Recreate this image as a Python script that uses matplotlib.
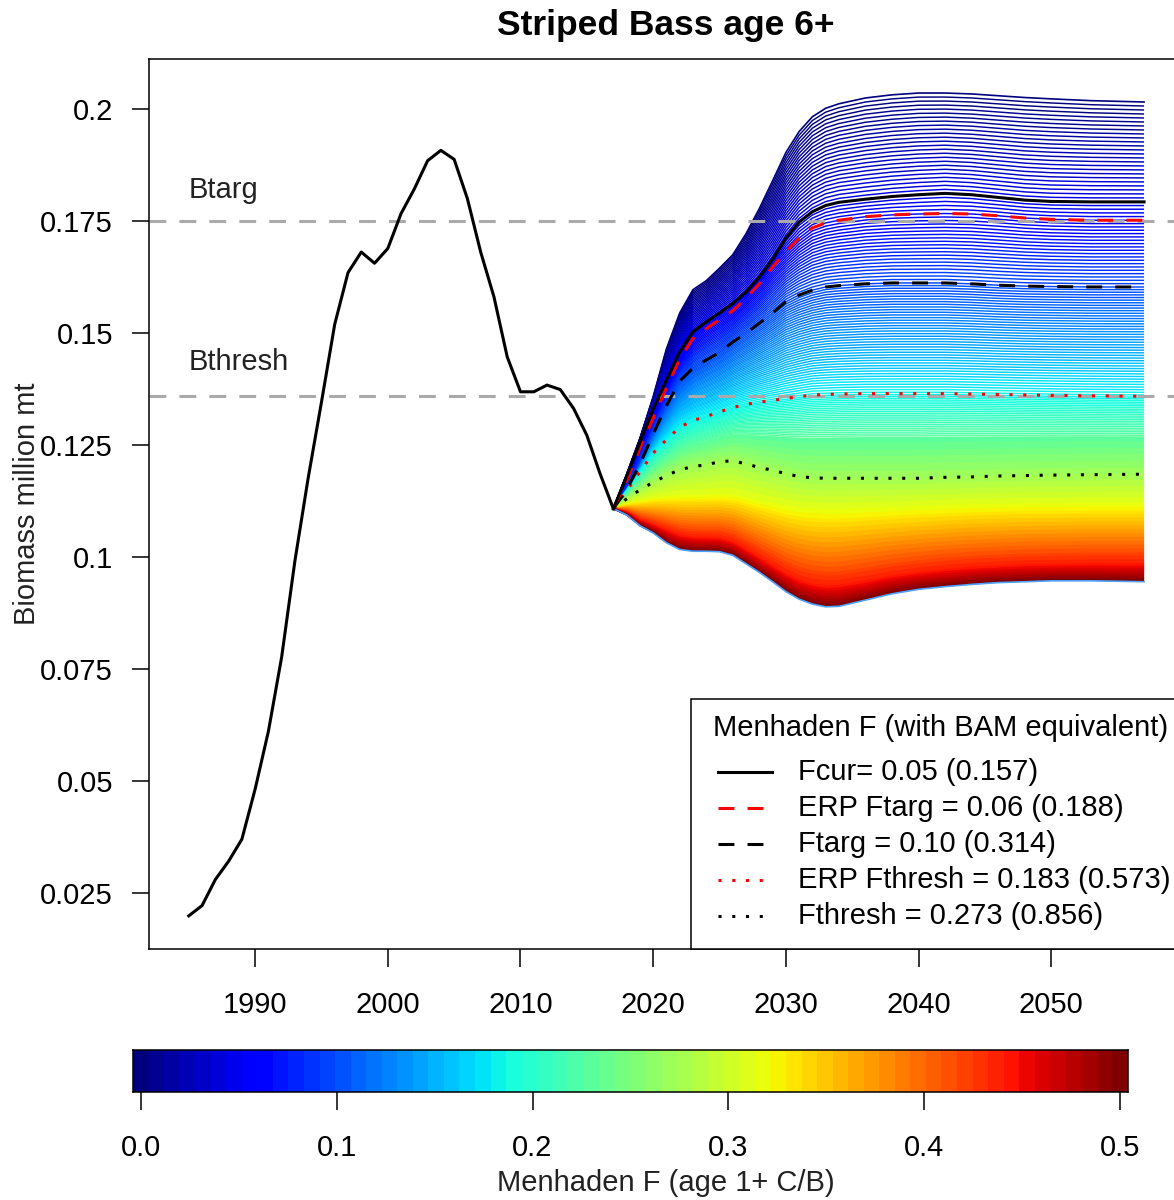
import numpy as np
import matplotlib
import matplotlib.pyplot as plt
from matplotlib.colors import Normalize
from matplotlib.lines import Line2D
from matplotlib.patches import Rectangle

plt.rcParams['font.family'] = ['Liberation Sans', 'DejaVu Sans']

# historical age 6+ biomass (million mt), 1985-2017
hist_years = np.arange(1985, 2018)
hist_biomass = [0.0199, 0.0222, 0.0280, 0.0321, 0.0370, 0.0482, 0.0611, 0.0777,
                0.0992, 0.1177, 0.1346, 0.1520, 0.1635, 0.1681, 0.1656, 0.1689,
                0.1767, 0.1822, 0.1885, 0.1908, 0.1888, 0.1800, 0.1681, 0.1581,
                0.1447, 0.1369, 0.1369, 0.1384, 0.1374, 0.1332, 0.1272, 0.1186,
                0.1108]

# projections for selected menhaden F levels
proj_years = [2017, 2018, 2019, 2020, 2021, 2022, 2023, 2024, 2025, 2026,
              2027, 2028, 2029, 2030, 2031, 2032, 2033, 2034, 2036, 2038,
              2040, 2042, 2044, 2046, 2048, 2050, 2053, 2057]
b_F000 = [0.1108, 0.1185, 0.1265, 0.1358, 0.1465, 0.1545, 0.1597, 0.1617, 0.1645, 0.1675,
          0.1722, 0.1778, 0.1840, 0.1903, 0.1950, 0.1983, 0.2002, 0.2012, 0.2025, 0.2032,
          0.2036, 0.2036, 0.2034, 0.2030, 0.2026, 0.2023, 0.2019, 0.2016]
b_Fcur = [0.1108, 0.1180, 0.1255, 0.1330, 0.1395, 0.1458, 0.1503, 0.1525, 0.1545, 0.1566,
          0.1592, 0.1625, 0.1665, 0.1712, 0.1748, 0.1771, 0.1785, 0.1792, 0.1799, 0.1805,
          0.1809, 0.1812, 0.1809, 0.1803, 0.1797, 0.1794, 0.1793, 0.1793]
b_ERPtarg = [0.1108, 0.1170, 0.1243, 0.1310, 0.1378, 0.1442, 0.1488, 0.1510, 0.1530, 0.1550,
             0.1578, 0.1610, 0.1648, 0.1682, 0.1712, 0.1735, 0.1746, 0.1752, 0.1760, 0.1764,
             0.1766, 0.1767, 0.1766, 0.1762, 0.1757, 0.1754, 0.1752, 0.1752]
b_Ftarg = [0.1108, 0.1150, 0.1207, 0.1275, 0.1338, 0.1393, 0.1422, 0.1440, 0.1457, 0.1480,
           0.1500, 0.1522, 0.1545, 0.1570, 0.1585, 0.1596, 0.1603, 0.1606, 0.1610, 0.1612,
           0.1612, 0.1612, 0.1610, 0.1607, 0.1605, 0.1604, 0.1603, 0.1603]
b_ERPthresh = [0.1108, 0.1148, 0.1190, 0.1232, 0.1262, 0.1290, 0.1305, 0.1314, 0.1324, 0.1334,
               0.1341, 0.1346, 0.1350, 0.1354, 0.1358, 0.1362, 0.1363, 0.1364, 0.1365, 0.1365,
               0.1365, 0.1365, 0.1364, 0.1363, 0.1362, 0.1361, 0.1360, 0.1359]
b_Fthresh = [0.1108, 0.1130, 0.1150, 0.1167, 0.1182, 0.1195, 0.1202, 0.1206, 0.1213, 0.1215,
             0.1208, 0.1200, 0.1194, 0.1186, 0.1180, 0.1177, 0.1176, 0.1176, 0.1176, 0.1176,
             0.1176, 0.1178, 0.1179, 0.1181, 0.1182, 0.1183, 0.1184, 0.1185]
b_F031 = [0.1108, 0.1118, 0.1126, 0.1132, 0.1136, 0.1138, 0.1139, 0.1140, 0.1141, 0.1140,
          0.1134, 0.1127, 0.1121, 0.1115, 0.1111, 0.1109, 0.1108, 0.1108, 0.1110, 0.1112,
          0.1114, 0.1116, 0.1118, 0.1119, 0.1120, 0.1120, 0.1121, 0.1121]
b_F044 = [0.1108, 0.1100, 0.1083, 0.1072, 0.1060, 0.1049, 0.1044, 0.1043, 0.1042, 0.1034,
          0.1017, 0.0999, 0.0981, 0.0963, 0.0949, 0.0940, 0.0936, 0.0937, 0.0947, 0.0958,
          0.0966, 0.0972, 0.0977, 0.0980, 0.0983, 0.0984, 0.0985, 0.0985]
b_F050 = [0.1108, 0.1094, 0.1070, 0.1054, 0.1032, 0.1017, 0.1013, 0.1013, 0.1012, 0.1004,
          0.0985, 0.0966, 0.0945, 0.0923, 0.0906, 0.0895, 0.0889, 0.0890, 0.0904, 0.0918,
          0.0928, 0.0934, 0.0939, 0.0943, 0.0945, 0.0947, 0.0947, 0.0945]
proj_F = [0.0, 0.05, 0.06, 0.10, 0.183, 0.273, 0.3125, 0.4375, 0.5]

legend_title = 'Menhaden F (with BAM equivalent)'
legend_labels = ['Fcur= 0.05 (0.157)', 'ERP Ftarg = 0.06 (0.188)', 'Ftarg = 0.10 (0.314)',
                 'ERP Fthresh = 0.183 (0.573)', 'Fthresh = 0.273 (0.856)']
Btarg = 0.175
Bthresh = 0.136

W, H = 1174, 1200
fs = 21
cmap = matplotlib.colormaps['jet'].resampled(64)
norm = Normalize(0, 0.5)
dash = (0, (5.2, 4.3))
dot = (0, (1, 3.5))


def fx(px):
    return px / W


def fy(py):
    return 1 - py / H


fig = plt.figure(figsize=(W / 100, H / 100), dpi=100)
ax = fig.add_axes([fx(149), fy(949), 1033 / W, 890 / H])

# family of projections: lines of constant F through the projection grid
X, Fg = np.meshgrid(proj_years, proj_F)
B = np.array([b_F000, b_Fcur, b_ERPtarg, b_Ftarg, b_ERPthresh, b_Fthresh, b_F031, b_F044, b_F050])
levels = np.linspace(0, 0.5, 251)
# high F lines are packed so tightly that they merge into a solid band
ax.contourf(X, B, Fg, levels=levels[115:], cmap=cmap, norm=norm, antialiased=True)
ax.contour(X, B, Fg, levels=levels[1:-1], cmap=cmap, norm=norm, linewidths=1.05)
ax.plot(proj_years, b_F000, color=cmap(norm(0.0)), lw=1.2)
ax.plot(proj_years, b_F050, color='#4da3ff', lw=1.2)

ax.axhline(Btarg, color='#aaaaaa', lw=2.2, ls=(0, (5.5, 4.3)))
ax.axhline(Bthresh, color='#aaaaaa', lw=2.2, ls=(0, (5.5, 4.3)))
ax.text(1985, 0.1819, 'Btarg', fontsize=fs, va='center', color='#222222')
ax.text(1985, 0.1435, 'Bthresh', fontsize=fs, va='center', color='#222222')

ax.plot(proj_years, b_ERPthresh, color='red', lw=2.2, ls=dot)
ax.plot(proj_years, b_Fthresh, color='black', lw=2.2, ls=dot)
ax.plot(proj_years, b_Ftarg, color='black', lw=2.2, ls=dash)
ax.plot(proj_years, b_ERPtarg, color='red', lw=2.2, ls=dash)
ax.plot(proj_years, b_Fcur, color='black', lw=2.2)
ax.plot(hist_years, hist_biomass, color='black', lw=2.2)

ax.set_xlim(1982.0, 2059.86)
ax.set_ylim(0.0125, 0.2112)
ax.set_xticks([1990, 2000, 2010, 2020, 2030, 2040, 2050])
ax.set_yticks([0.025, 0.05, 0.075, 0.1, 0.125, 0.15, 0.175, 0.2])
ax.set_yticklabels(['0.025', '0.05', '0.075', '0.1', '0.125', '0.15', '0.175', '0.2'])
ax.tick_params(axis='x', length=13, width=1.1, pad=17.5, labelsize=fs)
ax.tick_params(axis='y', length=12, width=1.1, pad=14, labelsize=fs)
for s in ax.spines.values():
    s.set_linewidth(1.1)

# legend box, R style (bottom right of the panel)
fig.add_artist(Rectangle((fx(691), fy(949)), (1190 - 691) / W, (949 - 699) / H,
                         transform=fig.transFigure, facecolor='white',
                         edgecolor='black', lw=1.1, zorder=3))
fig.text(fx(713), fy(728), legend_title, fontsize=fs, va='center', zorder=4)
styles = [('black', '-'), ('red', dash), ('black', dash), ('red', dot), ('black', dot)]
for i, (lab, (col, ls)) in enumerate(zip(legend_labels, styles)):
    yy = fy(772 + 36 * i)
    fig.add_artist(Line2D([fx(718), fx(772)], [yy, yy], color=col, lw=2.2, ls=ls,
                          transform=fig.transFigure, zorder=4))
    fig.text(fx(798), yy, lab, fontsize=fs, va='center', zorder=4)

fig.text(fx(665.5), fy(26), 'Striped Bass age 6+', fontsize=25.5, fontweight='bold',
         ha='center', va='center')
fig.text(fx(27), fy(504), 'Biomass million mt', fontsize=fs, rotation=90,
         ha='center', va='center', color='#222222')

# colour scale
cax = fig.add_axes([fx(133), fy(1092), 995 / W, 42 / H])
cax.imshow(np.arange(64)[None, :], cmap=cmap, aspect='auto',
           extent=[-0.5 / 126, 0.5 + 0.5 / 126, 0, 1])
cax.set_xlim(-0.5 / 126, 0.5 + 0.5 / 126)
cax.set_yticks([])
cax.set_xticks([0.0, 0.1, 0.2, 0.3, 0.4, 0.5])
cax.set_xticklabels(['0.0', '0.1', '0.2', '0.3', '0.4', '0.5'])
cax.tick_params(axis='x', length=13, width=1.1, pad=17, labelsize=fs)
for s in cax.spines.values():
    s.set_linewidth(1.1)
fig.text(fx(666), fy(1183), 'Menhaden F (age 1+ C/B)', fontsize=fs,
         ha='center', va='center', color='#222222')

fig.savefig('out.png', dpi=100)
